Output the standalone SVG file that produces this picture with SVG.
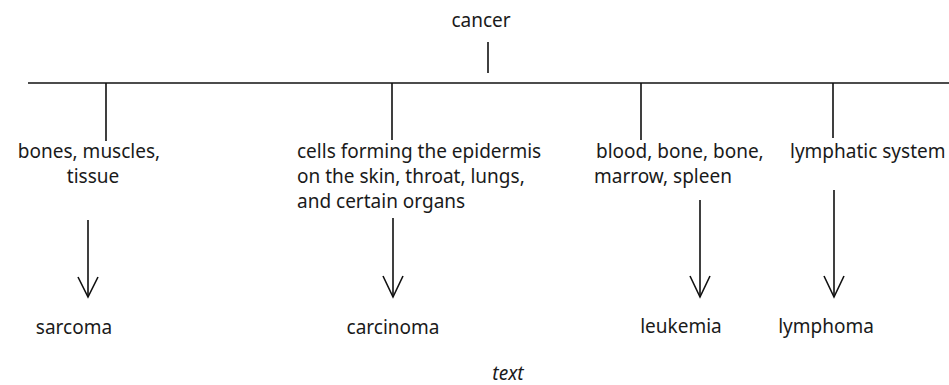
<svg xmlns="http://www.w3.org/2000/svg" width="949" height="385" viewBox="0 0 949 385">
<defs>
<style>
text{font-family:"Noto Sans","Open Sans",sans-serif;font-size:19px;fill:#1a1a1a}
.c{text-anchor:middle}
.it{font-style:italic}
.ln{stroke:#111;stroke-width:1.6;fill:none}
.ah{stroke:#111;stroke-width:1.6;fill:none;stroke-linejoin:miter}
</style>
</defs>
<rect width="949" height="385" fill="#fff"/>
<g id="cancer"><text class="c" x="481" y="27">cancer</text></g>
<g id="bones"><text class="c" x="89" y="158">bones, muscles,</text><text class="c" x="93" y="183">tissue</text></g>
<g id="cells"><text x="297" y="158">cells forming the epidermis</text><text x="297" y="183">on the skin, throat, lungs,</text><text x="297" y="208">and certain organs</text></g>
<g id="blood"><text x="596" y="158">blood, bone, bone,</text><text x="594" y="183">marrow, spleen</text></g>
<g id="lymphatic"><text x="790" y="158">lymphatic system</text></g>
<g id="sarcoma"><text class="c" x="74" y="334">sarcoma</text></g>
<g id="carcinoma"><text class="c" x="393" y="334">carcinoma</text></g>
<g id="leukemia"><text class="c" x="681" y="333">leukemia</text></g>
<g id="lymphoma"><text class="c" x="826" y="333">lymphoma</text></g>
<g id="caption"><text class="c it" x="508" y="380">text</text></g>
<g id="connectors">
<path class="ln" d="M488 42V73"/>
<path class="ln" d="M28 83H949"/>
<path class="ln" d="M106 83V141M392 83V140M641 83V140M833 83V138"/>
<path class="ln" d="M88 220V296M393 218V296M700 200V296M834 190V296"/>
<path class="ah" d="M78 277L88 297L98 277M383 276L393 297L403 276M690 276L700 297L710 276M824 276L834 297L844 276"/>
</g>
</svg>
